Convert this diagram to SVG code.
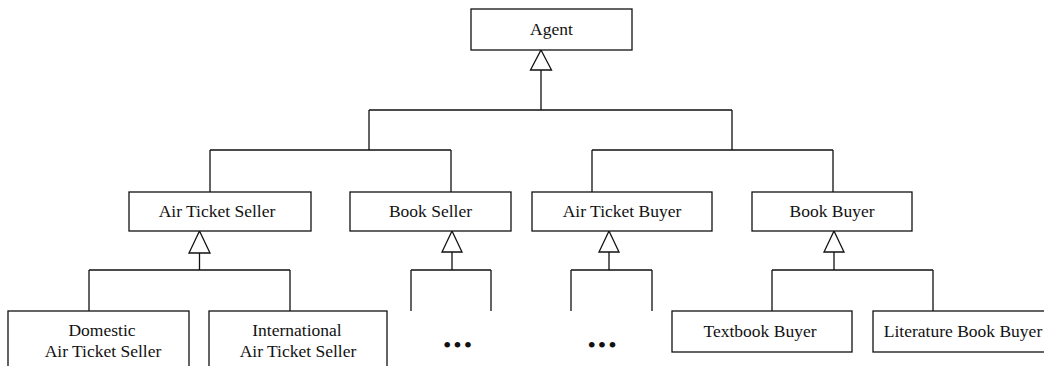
<svg xmlns="http://www.w3.org/2000/svg" width="1044" height="366" viewBox="0 0 1044 366">
<defs>
<style>
.box{fill:#fff;stroke:#111;stroke-width:1.3}
.ln{fill:none;stroke:#111;stroke-width:1.3}
.tri{fill:#fff;stroke:#111;stroke-width:1.3;stroke-linejoin:miter}
.t{font-family:"Liberation Serif","Times New Roman",serif;font-size:17.5px;fill:#111;text-anchor:middle}
.dots{font-family:"Liberation Serif","Times New Roman",serif;font-size:24px;fill:#111;text-anchor:middle;letter-spacing:2px}
</style>
</defs>
<rect width="1044" height="366" fill="#fff"/>
<g id="connectors">
<path class="ln" d="M541 70V110M369 110H732M369 110V150M732 110V150"/>
<path class="ln" d="M210 150H451M210 150V192M451 150V192"/>
<path class="ln" d="M592 150H833M592 150V192M833 150V192"/>
<path class="ln" d="M199.5 253V270M89 270H290M89 270V311M290 270V311"/>
<path class="ln" d="M452 252V270M411 270H491M411 270V311M491 270V311"/>
<path class="ln" d="M609 252V270M571 270H652M571 270V311M652 270V311"/>
<path class="ln" d="M834 252V270M772 270H933M772 270V311M933 270V311"/>
<polygon class="tri" points="541,50 551.5,70 530.5,70"/>
<polygon class="tri" points="199.5,231 210,253 189,253"/>
<polygon class="tri" points="452,231 462,252 442,252"/>
<polygon class="tri" points="609,231 619,252 599,252"/>
<polygon class="tri" points="834,231 844,252 824,252"/>
</g>
<g id="agent"><rect class="box" x="471" y="9" width="161" height="41"/><text class="t" x="551.5" y="35">Agent</text></g>
<g id="air-ticket-seller"><rect class="box" x="129" y="192" width="182" height="39"/><text class="t" x="217" y="217">Air Ticket Seller</text></g>
<g id="book-seller"><rect class="box" x="350" y="192" width="161" height="39"/><text class="t" x="430.5" y="217">Book Seller</text></g>
<g id="air-ticket-buyer"><rect class="box" x="532" y="192" width="180" height="39"/><text class="t" x="622" y="217">Air Ticket Buyer</text></g>
<g id="book-buyer"><rect class="box" x="752" y="192" width="160" height="39"/><text class="t" x="832" y="217">Book Buyer</text></g>
<g id="domestic"><rect class="box" x="8" y="311" width="181" height="70"/><text class="t" x="102" y="336">Domestic</text><text class="t" x="103" y="357">Air Ticket Seller</text></g>
<g id="international"><rect class="box" x="209" y="311" width="178" height="70"/><text class="t" x="297" y="336">International</text><text class="t" x="298" y="357">Air Ticket Seller</text></g>
<g id="book-seller-more"><text class="dots" x="458.5" y="353">•••</text></g>
<g id="air-ticket-buyer-more"><text class="dots" x="603" y="353">•••</text></g>
<g id="textbook-buyer"><rect class="box" x="672" y="311" width="180" height="41"/><text class="t" x="760" y="337">Textbook Buyer</text></g>
<g id="literature-book-buyer"><rect class="box" x="873" y="311" width="180" height="41"/><text class="t" x="963" y="337">Literature Book Buyer</text></g>
</svg>
